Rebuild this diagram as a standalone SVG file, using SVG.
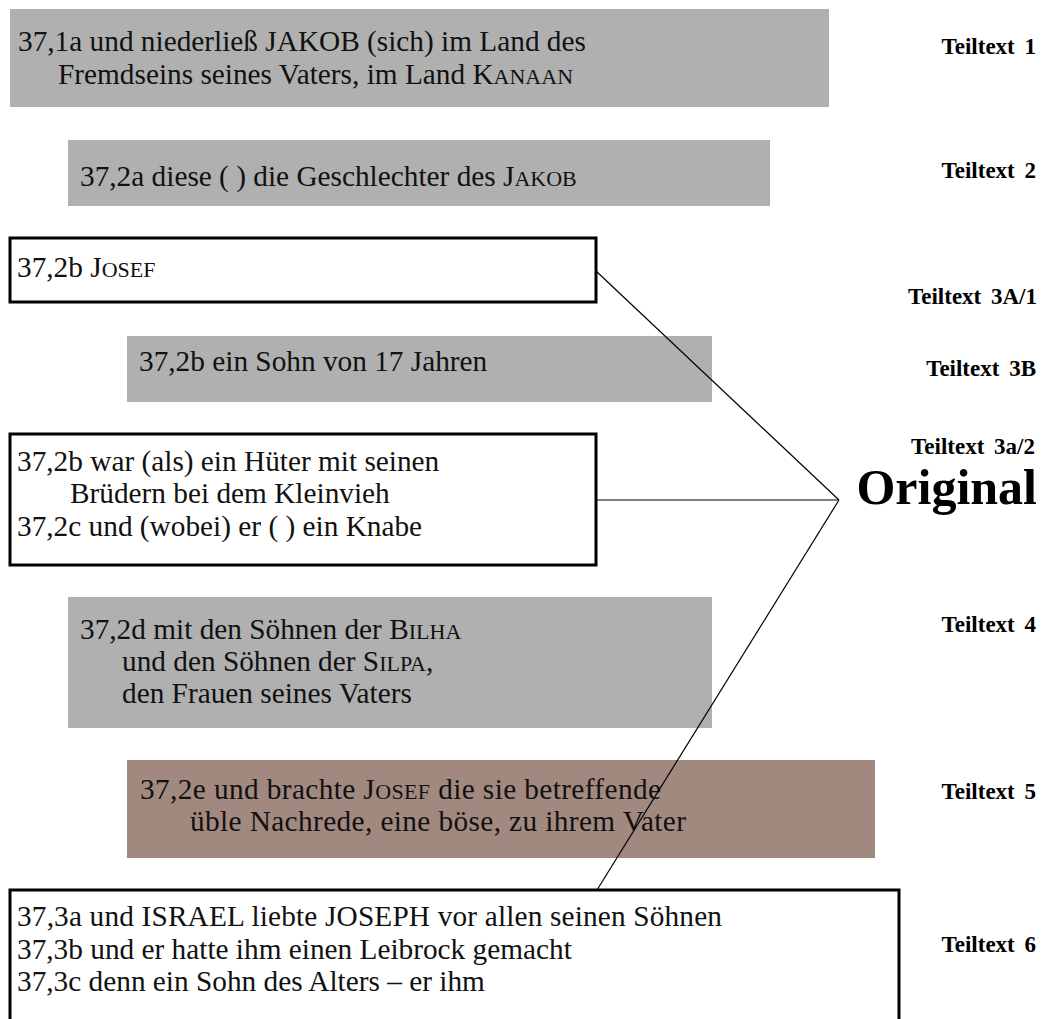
<svg xmlns="http://www.w3.org/2000/svg" width="1042" height="1019" viewBox="0 0 1042 1019">
<style>
.gray{fill:#b0b0b0;stroke:none}
.brown{fill:#a2897f;stroke:none}
.white{fill:#ffffff;stroke:#000000;stroke-width:3}
.t{font-family:"Liberation Serif","Times New Roman",serif;font-size:29.3px;fill:#111}
.sc{font-size:22px}
.lab{font-family:"Liberation Serif","Times New Roman",serif;font-size:23px;font-weight:bold;fill:#000;text-anchor:end;word-spacing:4px}
.orig{font-family:"Liberation Serif","Times New Roman",serif;font-size:50px;font-weight:bold;fill:#000;text-anchor:end}
.con{stroke:#000;stroke-width:1.2;fill:none}
</style>
<rect width="1042" height="1019" fill="#ffffff"/>
<g id="node-1">
<rect class="gray" x="10" y="9" width="819" height="98"/>
<text class="t" x="18" y="51">37,1a und niederließ JAKOB (sich) im Land des</text>
<text class="t" x="58" y="84">Fremdseins seines Vaters, im Land K<tspan class="sc">ANAAN</tspan></text>
</g>
<g id="node-2">
<rect class="gray" x="68" y="140" width="702" height="66"/>
<text class="t" x="80" y="186">37,2a diese ( ) die Geschlechter des J<tspan class="sc">AKOB</tspan></text>
</g>
<g id="node-3A1">
<rect class="white" x="10" y="238" width="586" height="64"/>
<text class="t" x="17" y="277">37,2b J<tspan class="sc">OSEF</tspan></text>
</g>
<g id="node-3B">
<rect class="gray" x="127" y="336" width="585" height="66"/>
<text class="t" x="139" y="371">37,2b ein Sohn von 17 Jahren</text>
</g>
<g id="node-3a2">
<rect class="white" x="10" y="434" width="586" height="131"/>
<text class="t" x="17" y="471">37,2b war (als) ein Hüter mit seinen</text>
<text class="t" x="70" y="503">Brüdern bei dem Kleinvieh</text>
<text class="t" x="17" y="536">37,2c und (wobei) er ( ) ein Knabe</text>
</g>
<g id="node-4">
<rect class="gray" x="68" y="597" width="644" height="131"/>
<text class="t" x="80" y="639">37,2d mit den Söhnen der B<tspan class="sc">ILHA</tspan></text>
<text class="t" x="122" y="671">und den Söhnen der S<tspan class="sc">ILPA</tspan>,</text>
<text class="t" x="122" y="703">den Frauen seines Vaters</text>
</g>
<g id="node-5">
<rect class="brown" x="127" y="760" width="748" height="98"/>
<text class="t" x="140" y="799" textLength="521" lengthAdjust="spacing">37,2e und brachte J<tspan class="sc">OSEF</tspan> die sie betreffende</text>
<text class="t" x="190" y="831" textLength="496" lengthAdjust="spacing">üble Nachrede, eine böse, zu ihrem Vater</text>
</g>
<g id="node-6">
<rect class="white" x="10" y="890" width="889" height="140"/>
<text class="t" x="17" y="926" textLength="705" lengthAdjust="spacing">37,3a und ISRAEL liebte JOSEPH vor allen seinen Söhnen</text>
<text class="t" x="17" y="959">37,3b und er hatte ihm einen Leibrock gemacht</text>
<text class="t" x="17" y="991">37,3c denn ein Sohn des Alters – er ihm</text>
</g>
<g id="labels">
<text class="lab" x="1036" y="54">Teiltext 1</text>
<text class="lab" x="1036" y="178">Teiltext 2</text>
<text class="lab" x="1037" y="304">Teiltext 3A/1</text>
<text class="lab" x="1036" y="376">Teiltext 3B</text>
<text class="lab" x="1035" y="454">Teiltext 3a/2</text>
<text class="orig" x="1037" y="504">Original</text>
<text class="lab" x="1036" y="632">Teiltext 4</text>
<text class="lab" x="1036" y="799">Teiltext 5</text>
<text class="lab" x="1036" y="952">Teiltext 6</text>
</g>
<g id="connectors">
<line class="con" x1="596" y1="271" x2="839" y2="500"/>
<line class="con" x1="596" y1="500" x2="839" y2="500"/>
<line class="con" x1="597" y1="890" x2="839" y2="500"/>
</g>
</svg>
